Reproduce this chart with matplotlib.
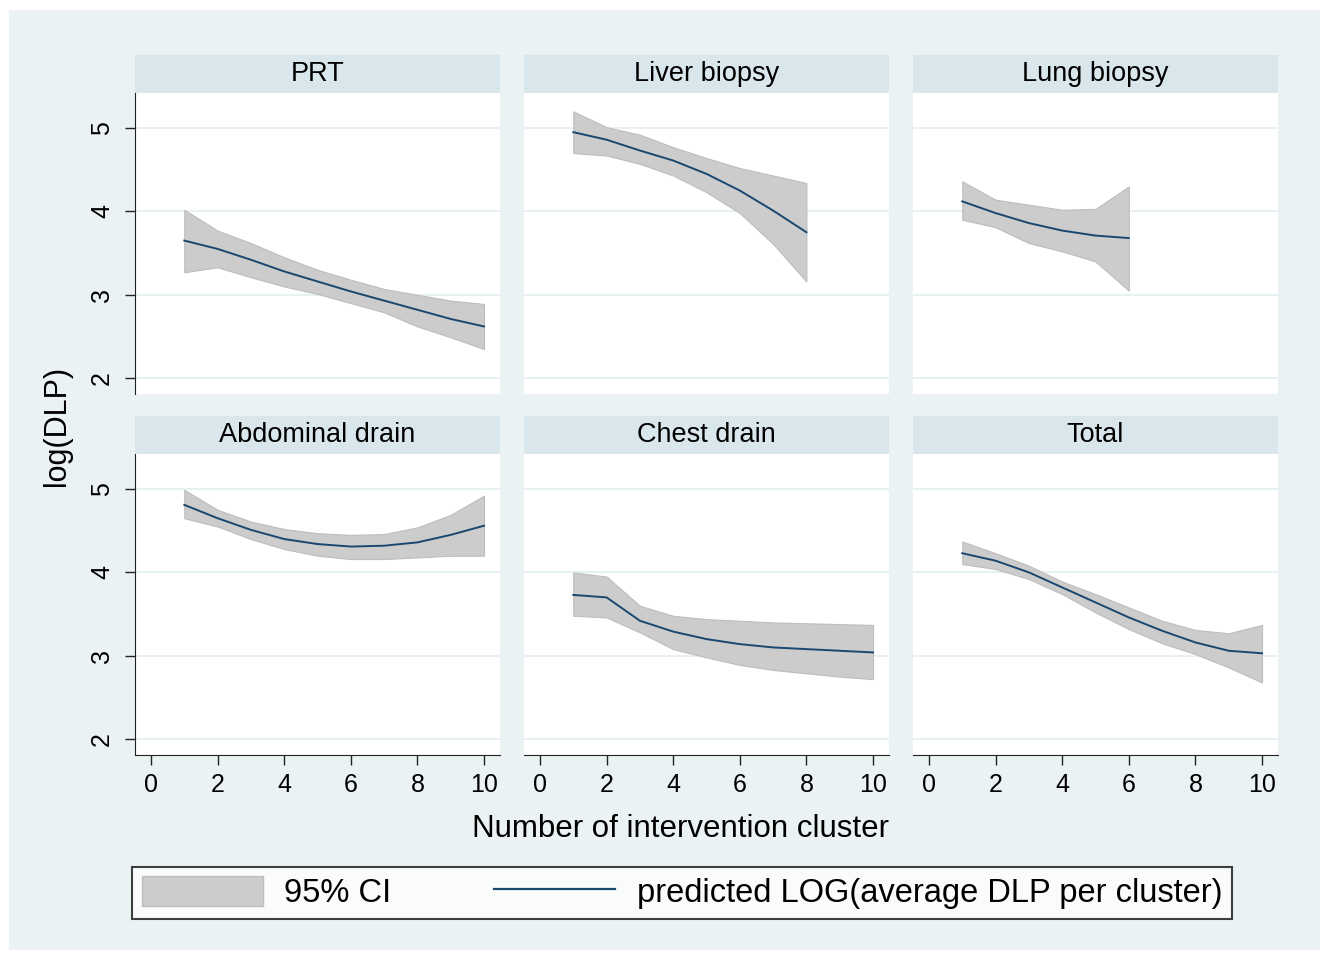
import numpy as np
import matplotlib
matplotlib.use("Agg")
import matplotlib.pyplot as plt
from matplotlib.patches import Rectangle, Patch
from matplotlib.lines import Line2D

plt.rcParams['font.family'] = ['Liberation Sans', 'DejaVu Sans']

# panel titles
titles = ["PRT", "Liver biopsy", "Lung biopsy", "Abdominal drain", "Chest drain", "Total"]

# predicted log(DLP) and 95% CI per intervention cluster
prt_x = [1, 2, 3, 4, 5, 6, 7, 8, 9, 10]
prt_fit = [3.65, 3.55, 3.42, 3.28, 3.16, 3.04, 2.93, 2.82, 2.71, 2.62]
prt_lo = [3.27, 3.33, 3.21, 3.10, 3.01, 2.90, 2.79, 2.62, 2.49, 2.35]
prt_hi = [4.02, 3.77, 3.62, 3.45, 3.30, 3.18, 3.07, 3.00, 2.93, 2.89]

liver_x = [1, 2, 3, 4, 5, 6, 7, 8]
liver_fit = [4.95, 4.86, 4.73, 4.61, 4.45, 4.25, 4.01, 3.75]
liver_lo = [4.70, 4.67, 4.57, 4.43, 4.23, 3.98, 3.61, 3.16]
liver_hi = [5.20, 5.01, 4.92, 4.77, 4.64, 4.52, 4.43, 4.34]

lung_x = [1, 2, 3, 4, 5, 6]
lung_fit = [4.12, 3.98, 3.86, 3.77, 3.71, 3.68]
lung_lo = [3.90, 3.81, 3.62, 3.52, 3.40, 3.05]
lung_hi = [4.36, 4.14, 4.08, 4.02, 4.03, 4.30]

abd_x = [1, 2, 3, 4, 5, 6, 7, 8, 9, 10]
abd_fit = [4.81, 4.65, 4.51, 4.40, 4.34, 4.31, 4.32, 4.36, 4.45, 4.56]
abd_lo = [4.65, 4.55, 4.40, 4.28, 4.20, 4.16, 4.16, 4.18, 4.20, 4.20]
abd_hi = [4.99, 4.75, 4.61, 4.52, 4.47, 4.45, 4.46, 4.54, 4.69, 4.92]

chest_x = [1, 2, 3, 4, 5, 6, 7, 8, 9, 10]
chest_fit = [3.73, 3.70, 3.42, 3.29, 3.20, 3.14, 3.10, 3.08, 3.06, 3.04]
chest_lo = [3.48, 3.46, 3.28, 3.08, 2.98, 2.89, 2.83, 2.79, 2.75, 2.72]
chest_hi = [4.00, 3.95, 3.60, 3.48, 3.44, 3.42, 3.40, 3.39, 3.38, 3.37]

total_x = [1, 2, 3, 4, 5, 6, 7, 8, 9, 10]
total_fit = [4.23, 4.14, 4.00, 3.82, 3.64, 3.46, 3.30, 3.16, 3.06, 3.03]
total_lo = [4.10, 4.04, 3.92, 3.74, 3.52, 3.32, 3.15, 3.02, 2.86, 2.68]
total_hi = [4.37, 4.23, 4.08, 3.89, 3.74, 3.58, 3.42, 3.31, 3.27, 3.37]

panels = [
    (prt_x, prt_fit, prt_lo, prt_hi),
    (liver_x, liver_fit, liver_lo, liver_hi),
    (lung_x, lung_fit, lung_lo, lung_hi),
    (abd_x, abd_fit, abd_lo, abd_hi),
    (chest_x, chest_fit, chest_lo, chest_hi),
    (total_x, total_fit, total_lo, total_hi),
]

xticks = [0, 2, 4, 6, 8, 10]
yticks = [2, 3, 4, 5]

bg = '#eaf2f3'
strip_col = '#d9e6eb'
grid_col = '#e3eef1'
ci_col = '#cccccc'
line_col = '#1a476f'

W, H = 1322, 960
fig = plt.figure(figsize=(W / 100, H / 100), dpi=100, facecolor='white')
fig.patches.append(Rectangle((9 / W, 10 / H), 1311 / W, 940 / H, transform=fig.transFigure,
                             facecolor=bg, edgecolor='none', zorder=-10))

col_left = [135, 524, 913]
row_top = [93, 454]
pw, ph = 365, 301
strip_h = 38

for i, (xs, fit, lo, hi) in enumerate(panels):
    r, c = divmod(i, 3)
    left = col_left[c] / W
    bottom = 1 - (row_top[r] + ph) / H
    ax = fig.add_axes([left, bottom, pw / W, ph / H])
    ax.set_facecolor('white')

    for yv in yticks:
        ax.axhline(yv, color=grid_col, lw=1.2, zorder=0)

    ax.fill_between(xs, lo, hi, facecolor=ci_col, edgecolor='#bdbdbd', lw=0.8, zorder=2)
    ax.plot(xs, fit, color=line_col, lw=1.4, zorder=3)

    ax.set_xlim(-0.48, 10.48)
    ax.set_ylim(1.81, 5.42)

    for s in ['top', 'right']:
        ax.spines[s].set_visible(False)
    ax.spines['left'].set_visible(c == 0)
    ax.spines['bottom'].set_visible(r == 1)
    ax.spines['left'].set_color('#222222')
    ax.spines['bottom'].set_color('#222222')

    ax.set_yticks(yticks)
    ax.set_xticks(xticks)
    if c == 0:
        ax.tick_params(axis='y', length=7, width=1, color='#222222', pad=8, labelsize=18)
        for lab in ax.get_yticklabels():
            lab.set_rotation(90)
            lab.set_va('center')
    else:
        ax.tick_params(axis='y', left=False, labelleft=False)
    if r == 1:
        ax.tick_params(axis='x', length=7, width=1, color='#222222', pad=6, labelsize=18)
    else:
        ax.tick_params(axis='x', bottom=False, labelbottom=False)

    ax.add_patch(Rectangle((0, 1), 1, strip_h / ph, transform=ax.transAxes, clip_on=False,
                           facecolor=strip_col, edgecolor='none'))
    ax.text(0.5, 1 + strip_h / ph / 2, titles[i], transform=ax.transAxes,
            ha='center', va='center', fontsize=19.5)

fig.text(57 / W, 1 - 426 / H, 'log(DLP)', rotation=90, ha='center', va='center', fontsize=22)
fig.text(680 / W, 1 - 829 / H, 'Number of intervention cluster', ha='center', va='center', fontsize=22.5)

handles = [Patch(facecolor=ci_col, edgecolor='#bdbdbd'),
           Line2D([], [], color=line_col, lw=1.6)]
labels = ['95% CI', 'predicted LOG(average DLP per cluster)']
leg = fig.legend(handles, labels, ncol=2, loc='lower left',
                 bbox_to_anchor=(132 / W, 1 - 919 / H, 1100 / W, 59 / H), mode='expand',
                 fontsize=23.5, frameon=True, fancybox=False, handlelength=3.7,
                 handleheight=1.0, handletextpad=0.66, borderpad=0.3, borderaxespad=0)
leg.get_frame().set_edgecolor('#111111')
leg.get_frame().set_linewidth(1.5)

fig.savefig('out.png', dpi=100, facecolor='white')
